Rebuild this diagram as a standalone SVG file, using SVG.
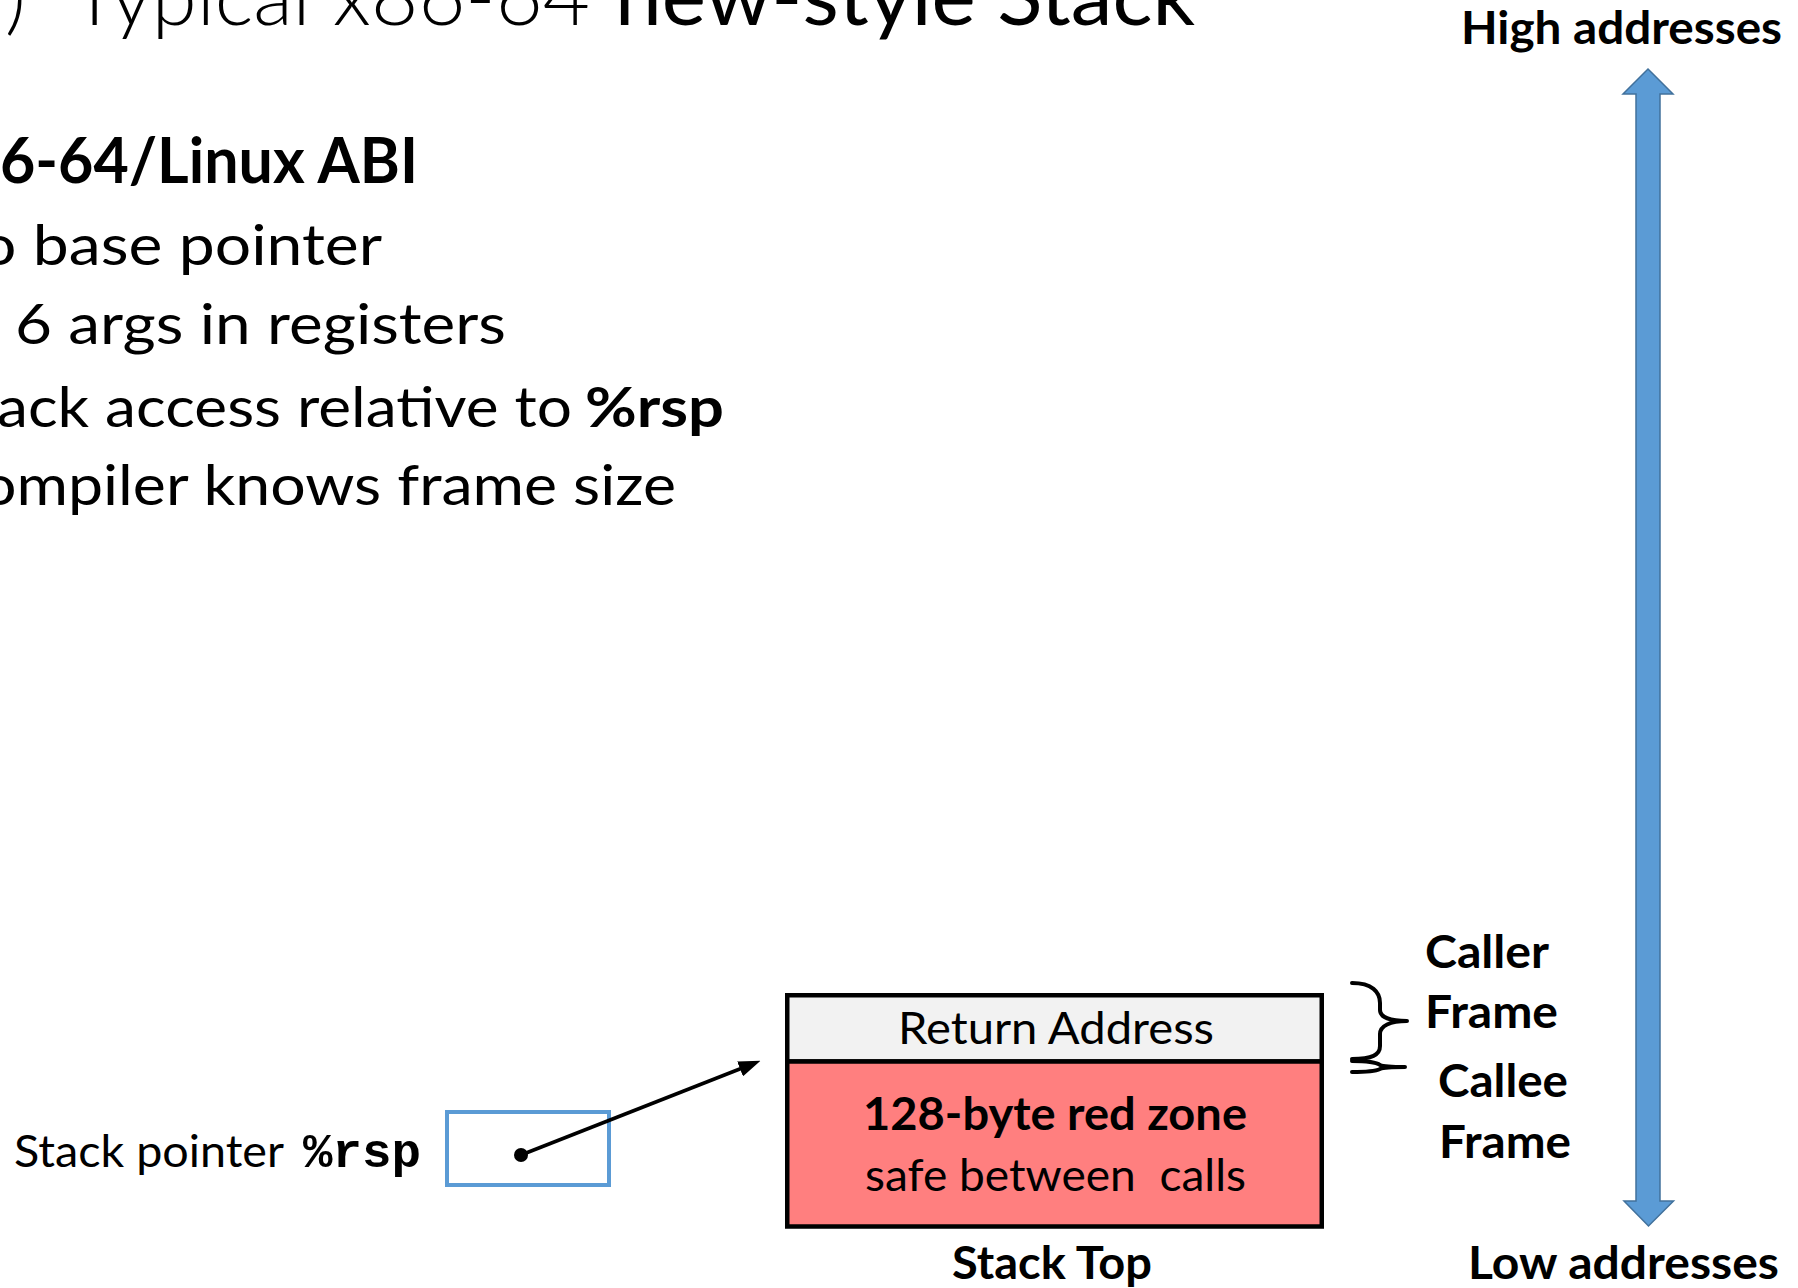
<svg xmlns="http://www.w3.org/2000/svg" width="1798" height="1288" viewBox="0 0 1798 1288">
<style>
  text { font-family: Lato, "Open Sans", "Liberation Sans", sans-serif; fill: #000; }
  .title { font-size: 81px; }
  .light { font-weight: 300; }
  .head { font-size: 64px; }
  .body { font-size: 56px; }
  .lbl { font-size: 45px; }
  .b { font-weight: 700; }
  .mono { font-family: "Liberation Mono", "DejaVu Sans Mono", monospace; font-weight: 700; font-size: 48px; }
  .pre { white-space: pre; }
  .frame { stroke: #000; stroke-width: 4.5; }
  .brace { fill: none; stroke: #000; stroke-width: 4; stroke-linecap: round; stroke-linejoin: round; }
  .conn { stroke: #000; stroke-width: 3.5; fill: none; }
</style>
<defs>
  <marker id="ah" markerUnits="userSpaceOnUse" viewBox="0 0 22 16" refX="1" refY="8" markerWidth="22" markerHeight="16" orient="auto">
    <path d="M0,0 L22,8 L0,16 z" fill="#000"/>
  </marker>
</defs>
<rect width="1798" height="1288" fill="#fff"/>

<g id="title">
  <text class="title light" x="5" y="25">)</text>
  <text class="title light" x="71" y="25" textLength="519" lengthAdjust="spacingAndGlyphs">Typical x86-64</text>
  <text class="title" x="615" y="25" textLength="580" lengthAdjust="spacingAndGlyphs">new-style Stack</text>
</g>

<g id="bullets">
  <text class="head b" x="0" y="183" textLength="418" lengthAdjust="spacingAndGlyphs">6-64/Linux ABI</text>
  <text class="body" x="-20" y="265" textLength="402" lengthAdjust="spacingAndGlyphs">o base pointer</text>
  <text class="body" x="15" y="344" textLength="491" lengthAdjust="spacingAndGlyphs">6 args in registers</text>
  <text class="body" x="-3" y="427" textLength="575" lengthAdjust="spacingAndGlyphs">ack access relative to</text>
  <text class="body b" x="585" y="427" textLength="139" lengthAdjust="spacingAndGlyphs">%rsp</text>
  <text class="body" x="-19" y="505" textLength="695" lengthAdjust="spacingAndGlyphs">ompiler knows frame size</text>
</g>

<g id="address-axis">
  <polygon points="1648,69 1673,94 1660,94 1660,1201 1673.5,1201 1648.5,1226 1624,1201 1636,1201 1636,94 1623,94" fill="#5B9BD5" stroke="#41719C" stroke-width="1.5" stroke-linejoin="miter"/>
  <text class="lbl b" x="1461" y="44" textLength="321" lengthAdjust="spacingAndGlyphs">High addresses</text>
  <text class="lbl b" x="1468" y="1279" textLength="311" lengthAdjust="spacingAndGlyphs">Low addresses</text>
</g>

<g id="stack-pointer">
  <text class="lbl" x="14" y="1167" textLength="270" lengthAdjust="spacingAndGlyphs">Stack pointer</text>
  <text class="mono" x="303" y="1167" textLength="118" lengthAdjust="spacingAndGlyphs">%rsp</text>
  <rect x="447" y="1112" width="162" height="73" fill="#fff" stroke="#5B9BD5" stroke-width="4"/>
  <circle cx="521" cy="1155" r="7" fill="#000"/>
</g>

<g id="return-address">
  <rect class="frame" x="787.25" y="995.25" width="534.5" height="66.25" fill="#F2F2F2"/>
  <text class="lbl" x="898" y="1044" textLength="316" lengthAdjust="spacingAndGlyphs">Return Address</text>
</g>

<g id="red-zone">
  <rect class="frame" x="787.25" y="1061.5" width="534.5" height="165" fill="#FF7F7F"/>
  <text class="lbl b" x="863" y="1130" textLength="384" lengthAdjust="spacingAndGlyphs">128-byte red zone</text>
  <text class="lbl pre" x="865" y="1191" textLength="381" lengthAdjust="spacingAndGlyphs">safe between  calls</text>
  <text class="lbl b" x="952" y="1279" textLength="200" lengthAdjust="spacingAndGlyphs">Stack Top</text>
</g>

<g id="caller-frame">
  <path class="brace" d="M1352,983 C1372,983 1380,992 1380,1003 L1380,1010 C1380,1017 1390,1021 1407,1021 C1390,1021 1380,1026 1380,1034 L1380,1046 C1380,1055 1372,1059 1352,1059"/>
  <text class="lbl b" x="1425" y="968" textLength="124" lengthAdjust="spacingAndGlyphs">Caller</text>
  <text class="lbl b" x="1425" y="1028" textLength="133" lengthAdjust="spacingAndGlyphs">Frame</text>
</g>

<g id="callee-frame">
  <path class="brace" d="M1352,1061 C1368,1061 1376,1062 1380,1065 C1384,1067 1392,1067 1405,1067 C1392,1067 1384,1067 1380,1069 C1376,1071 1368,1072 1352,1072"/>
  <text class="lbl b" x="1438" y="1097" textLength="130" lengthAdjust="spacingAndGlyphs">Callee</text>
  <text class="lbl b" x="1439" y="1158" textLength="132" lengthAdjust="spacingAndGlyphs">Frame</text>
</g>

<g id="connectors">
  <line class="conn" x1="521" y1="1155" x2="741" y2="1068.5" marker-end="url(#ah)"/>
</g>
</svg>
